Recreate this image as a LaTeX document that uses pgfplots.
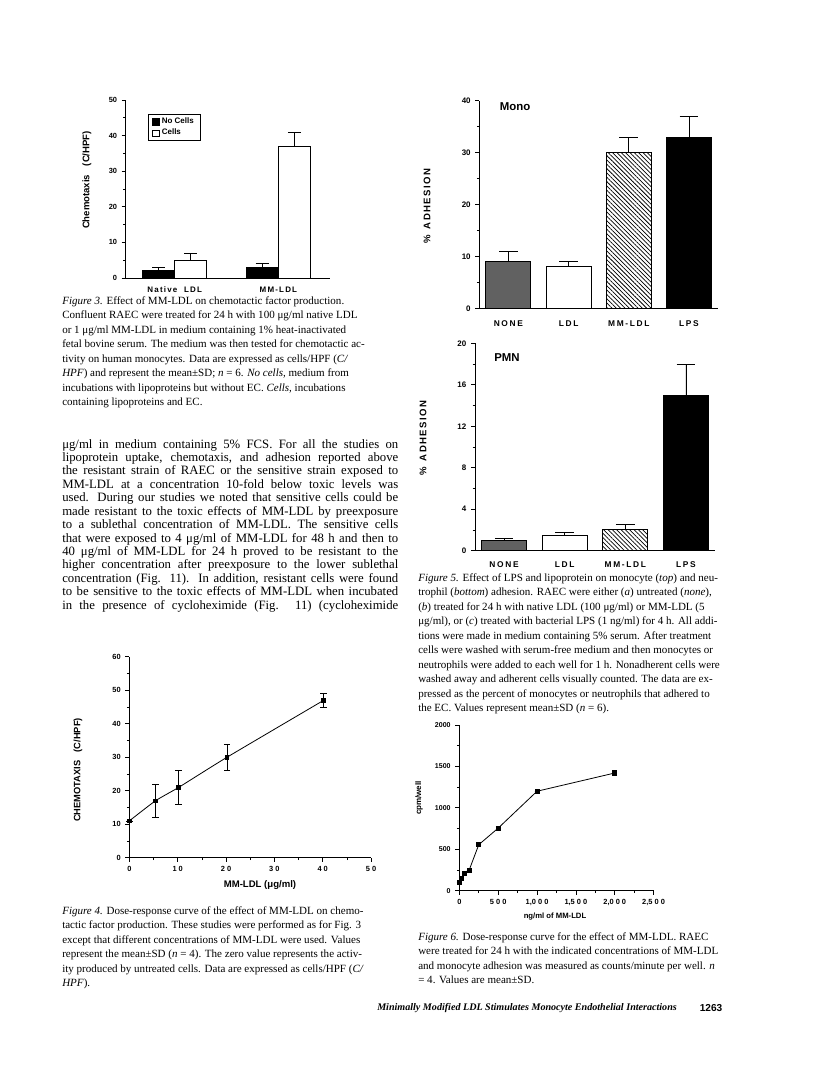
\documentclass[border=0pt]{standalone}
\usepackage{fontspec}
\setmainfont{Liberation Serif}
\newfontfamily\hv{Liberation Sans}
\usepackage{pgfplots}
\pgfplotsset{compat=1.18}
\usetikzlibrary{patterns,patterns.meta}

\newcommand{\lab}[1]{\hv\bfseries\fontsize{#1}{#1}\selectfont}
\newcommand{\capfont}{\fontsize{8.3}{10.95}\selectfont}
\newcommand{\bodyfont}{\fontsize{9.6}{10.1}\selectfont}
\newcommand{\jl}[1]{\makebox[252bp][s]{#1}}

\pgfplotsset{
  pg/.style={
    scale only axis, clip=false,
    axis lines*=left,
    axis line style={line width=0.6bp},
    tick align=outside,
    major tick length=3bp, minor tick length=1.8bp,
    every tick/.append style={black, line width=0.5bp},
    /pgf/number format/assume math mode=true,
    tick label style={font=\lab{5.6}},
    scaled ticks=false,
  },
  ebar/.style={error bars/.cd, y dir=plus, y explicit, error mark=|,
    error bar style={line width=0.6bp, black},
    error mark options={line width=0.6bp, black, mark size=#1}},
  onebar/.style={ybar, bar shift=0pt, draw=black, line width=0.7bp},
  sqleg/.style={legend image code/.code={\draw[##1,line width=0.5bp] (0bp,-2.4bp) rectangle (4.8bp,2.4bp);}},
}

\begin{document}
\begin{tikzpicture}
\fill[white] (0,0) rectangle (612bp,-803.25bp);
\path[use as bounding box] (0,0) rectangle (612bp,-803.25bp);

% Figure 3
\begin{axis}[pg,
  at={(94.3bp,-208.5bp)}, anchor=south west,
  width=153.2bp, height=133.5bp,
  xmin=0.527, xmax=2.498, ymin=0, ymax=50,
  ytick={0,10,...,50}, minor y tick num=1,
  xtick={1,2}, xticklabels={Native\ \ LDL, MM-LDL},
  xtick style={draw=none},
  xticklabel style={font=\lab{6}\addfontfeatures{LetterSpace=15}},
  ybar=0pt, bar width=0.31,
  legend style={at={(0.108,0.921)}, anchor=north west, draw=black, line width=0.5bp,
    font=\lab{6}, inner xsep=3bp, inner ysep=0.8bp, row sep=-1.5bp},
  legend cell align=left,
]
\addplot[fill=black, draw=black, line width=0.6bp, sqleg, ebar=5bp]
  coordinates {(1,2) +- (0,1) (2,3) +- (0,1)};
\addlegendentry{No Cells\hspace{7bp}}
\addplot[fill=white, draw=black, line width=0.6bp, sqleg, ebar=5bp]
  coordinates {(1,5) +- (0,2) (2,37) +- (0,4)};
\addlegendentry{Cells}
\end{axis}

% Figure 5 top: Mono
\begin{axis}[pg,
  at={(359.5bp,-231.2bp)}, anchor=south west,
  width=178.8bp, height=155.7bp,
  xmin=0.518, xmax=4.477, ymin=0, ymax=40,
  ytick={0,10,...,40}, minor y tick num=1,
  xtick={1,2,3,4}, xticklabels={NONE,LDL,MM-LDL,LPS},
  xtick style={draw=none},
  xticklabel style={font=\lab{6.3}\addfontfeatures{LetterSpace=20}, yshift=-3bp},
  yticklabel style={font=\lab{6}},
]
\addplot[onebar, bar width=0.75, fill=black!62, ebar=7bp] coordinates {(1,9) +- (0,2)};
\addplot[onebar, bar width=0.75, fill=white, ebar=7bp] coordinates {(2,8) +- (0,1)};
\addplot[onebar, bar width=0.75, pattern={Lines[angle=-45,distance=2.3bp,line width=0.55bp]}, ebar=7bp] coordinates {(3,30) +- (0,3)};
\addplot[onebar, bar width=0.75, fill=black, ebar=7bp] coordinates {(4,33) +- (0,4)};
\end{axis}

% Figure 5 bottom: PMN
\begin{axis}[pg,
  at={(356.25bp,-413bp)}, anchor=south west,
  width=180bp, height=155.5bp,
  xmin=0.52, xmax=4.48, ymin=0, ymax=20,
  ytick={0,4,...,20}, minor y tick num=1,
  xtick={1,2,3,4}, xticklabels={NONE,LDL,MM-LDL,LPS},
  xtick style={draw=none},
  xticklabel style={font=\lab{6.3}\addfontfeatures{LetterSpace=20}, yshift=-2bp},
  yticklabel style={font=\lab{6}},
]
\addplot[onebar, bar width=0.74, fill=black!62, ebar=7bp] coordinates {(1,1) +- (0,0.2)};
\addplot[onebar, bar width=0.74, fill=white, ebar=7bp] coordinates {(2,1.5) +- (0,0.3)};
\addplot[onebar, bar width=0.74, pattern={Lines[angle=-45,distance=2.3bp,line width=0.55bp]}, ebar=7bp] coordinates {(3,2) +- (0,0.5)};
\addplot[onebar, bar width=0.74, fill=black, ebar=7bp] coordinates {(4,15) +- (0,3)};
\end{axis}

% Figure 4
\begin{axis}[pg,
  at={(97bp,-643.3bp)}, anchor=south west,
  width=181.3bp, height=150.75bp,
  xmin=0, xmax=50, ymin=0, ymax=60,
  xtick={0,10,...,50}, xticklabels={0,1 0,2 0,3 0,4 0,5 0}, minor x tick num=1,
  ytick={0,10,...,60}, minor y tick num=1,
]
\addplot[black, line width=0.6bp, smooth, tension=0.3, mark=square*, mark size=1.4bp,
  mark options={solid},
  error bars/.cd, y dir=both, y explicit, error mark=|,
  error bar style={line width=0.5bp, black},
  error mark options={line width=0.5bp, black, mark size=2.4bp}]
  coordinates {(0,11) +- (0,0) (5.4,17) +- (0,5) (10.2,21) +- (0,5) (20.2,30) +- (0,4) (40.2,47) +- (0,2)};
\end{axis}

% Figure 6
\begin{axis}[pg,
  at={(344.5bp,-668bp)}, anchor=south west,
  width=145.7bp, height=124.3bp,
  xmin=0, xmax=2500, ymin=0, ymax=2000,
  xtick={0,500,...,2500}, xticklabels={0,5 0 0,{1,0 0 0},{1,5 0 0},{2,0 0 0},{2,5 0 0}},
  minor x tick num=1,
  ytick={0,500,...,2000}, minor y tick num=1,
  yticklabel style={/pgf/number format/1000 sep={}, font=\lab{5.3}},
]
\addplot[black, line width=0.6bp, mark=square*, mark size=1.4bp,
  error bars/.cd, y dir=both, y explicit, error mark=|,
  error bar style={line width=0.5bp, black},
  error mark options={line width=0.5bp, black, mark size=1.8bp}]
  coordinates {(0,100) +- (0,0) (31,150) +- (0,0) (62,205) +- (0,10) (125,245) +- (0,0)
    (250,555) +- (0,10) (500,755) +- (0,25) (1000,1200) +- (0,0) (2000,1420) +- (0,30)};
\end{axis}

\begin{scope}[x=0.75bp, y=-0.75bp, every node/.style={inner sep=0pt}]
% axis titles and labels
\node[rotate=90, font=\lab{7.2}] at (87,180) {Chemotaxis\hspace{0.9em}(C/HPF)};
\node[rotate=90, font=\lab{7.2}\addfontfeatures{LetterSpace=15}] at (427,206) {\%\hspace{0.6em}ADHESION};
\node[rotate=90, font=\lab{7.2}\addfontfeatures{LetterSpace=15}] at (423,438) {\%\hspace{0.6em}ADHESION};
\node[font=\lab{8.6}] at (515,107) {Mono};
\node[font=\lab{8.6}] at (507,358) {PMN};
\node[rotate=90, font=\lab{7}] at (78,770) {CHEMOTAXIS\hspace{0.9em}(C/HPF)};
\node[font=\lab{7.2}] at (260,885) {MM-LDL (μg/ml)};
\node[rotate=90, font=\lab{6}] at (419,798) {cpm/well};
\node[font=\lab{5.8}] at (555,917) {ng/ml of MM-LDL};

% Figure 3 caption
\node[anchor=north west, align=left, font=\capfont] at (62,296) {%
\textit{Figure 3.} Effect of MM-LDL on chemotactic factor production.\\
Confluent RAEC were treated for 24 h with 100 μg/ml native LDL\\
or 1 μg/ml MM-LDL in medium containing 1\% heat-inactivated\\
fetal bovine serum. The medium was then tested for chemotactic ac-\\
tivity on human monocytes. Data are expressed as cells/HPF (\textit{C/}\\
\textit{HPF}) and represent the mean±SD; \textit{n} = 6. \textit{No cells,} medium from\\
incubations with lipoproteins but without EC. \textit{Cells,} incubations\\
containing lipoproteins and EC.};

% body text
\node[anchor=north west, align=left, font=\bodyfont] at (62,439) {%
\jl{μg/ml in medium containing 5\% FCS. For all the studies on}\\
\jl{lipoprotein uptake, chemotaxis, and adhesion reported above}\\
\jl{the resistant strain of RAEC or the sensitive strain exposed to}\\
\jl{MM-LDL at a concentration 10-fold below toxic levels was}\\
\jl{used. During our studies we noted that sensitive cells could be}\\
\jl{made resistant to the toxic effects of MM-LDL by preexposure}\\
\jl{to a sublethal concentration of MM-LDL. The sensitive cells}\\
\jl{that were exposed to 4 μg/ml of MM-LDL for 48 h and then to}\\
\jl{40 μg/ml of MM-LDL for 24 h proved to be resistant to the}\\
\jl{higher concentration after preexposure to the lower sublethal}\\
\jl{concentration (Fig. 11). In addition, resistant cells were found}\\
\jl{to be sensitive to the toxic effects of MM-LDL when incubated}\\
\jl{in the presence of cycloheximide (Fig. 11) (cycloheximide}};

% Figure 5 caption
\node[anchor=north west, align=left, font=\capfont] at (418,573) {%
\textit{Figure 5.} Effect of LPS and lipoprotein on monocyte (\textit{top}) and neu-\\
trophil (\textit{bottom}) adhesion. RAEC were either (\textit{a}) untreated (\textit{none}),\\
(\textit{b}) treated for 24 h with native LDL (100 μg/ml) or MM-LDL (5\\
μg/ml), or (\textit{c}) treated with bacterial LPS (1 ng/ml) for 4 h. All addi-\\
tions were made in medium containing 5\% serum. After treatment\\
cells were washed with serum-free medium and then monocytes or\\
neutrophils were added to each well for 1 h. Nonadherent cells were\\
washed away and adherent cells visually counted. The data are ex-\\
pressed as the percent of monocytes or neutrophils that adhered to\\
the EC. Values represent mean±SD (\textit{n} = 6).};

% Figure 4 caption
\node[anchor=north west, align=left, font=\capfont] at (62,906) {%
\textit{Figure 4.} Dose-response curve of the effect of MM-LDL on chemo-\\
tactic factor production. These studies were performed as for Fig. 3\\
except that different concentrations of MM-LDL were used. Values\\
represent the mean±SD (\textit{n} = 4). The zero value represents the activ-\\
ity produced by untreated cells. Data are expressed as cells/HPF (\textit{C/}\\
\textit{HPF}).};

% Figure 6 caption
\node[anchor=north west, align=left, font=\capfont] at (418,932) {%
\textit{Figure 6.} Dose-response curve for the effect of MM-LDL. RAEC\\
were treated for 24 h with the indicated concentrations of MM-LDL\\
and monocyte adhesion was measured as counts/minute per well. \textit{n}\\
= 4. Values are mean±SD.};

% running footer
\node[anchor=west, font=\fontsize{7.6}{9}\selectfont\bfseries\itshape] at (377,1008) {Minimally Modified LDL Stimulates Monocyte Endothelial Interactions};
\node[font=\lab{7.6}] at (711,1008) {1263};
\end{scope}
\end{tikzpicture}
\end{document}
